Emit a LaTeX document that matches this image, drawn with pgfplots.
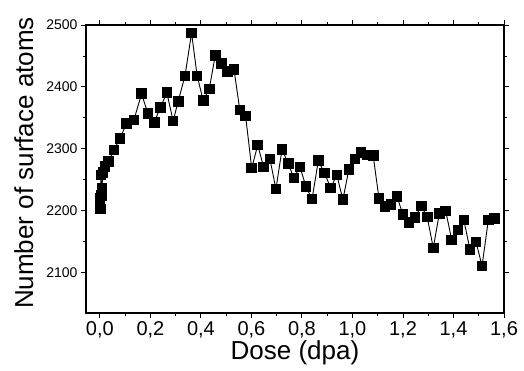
\documentclass[border=0pt]{standalone}
\usepackage{pgfplots}
\pgfplotsset{compat=1.18}
\usepackage{fontspec}
\setmainfont{Liberation Sans}
\begin{document}
\begin{tikzpicture}
\begin{axis}[
  scale only axis, width=418pt, height=288pt,
  xmin=-0.055, xmax=1.6, ymin=2035, ymax=2500,
  xtick={0,0.2,...,1.61}, minor x tick num=1,
  ytick={2100,2200,2300,2400,2500}, minor y tick num=1,
  tick align=outside, tick pos=both,
  xticklabel pos=lower, yticklabel pos=left,
  major tick length=5pt, minor tick length=3pt,
  every tick/.style={black, line width=0.9pt},
  axis line style={line width=1.1pt},
  xticklabel style={font=\fontsize{20}{20}\selectfont, /pgf/number format/.cd, fixed, fixed zerofill, precision=1, use comma},
  yticklabel style={font=\fontsize{14}{14}\selectfont, /pgf/number format/.cd, fixed, 1000 sep={}},
  /pgf/number format/assume math mode=true,
  xlabel={Dose (dpa)}, ylabel={Number of surface atoms},
  label style={font=\fontsize{26}{26}\selectfont},
  xlabel style={yshift=4pt},
  ylabel style={yshift=6pt, xshift=6pt},
  clip=false,
]
\coordinate (bl) at (rel axis cs:0,0);
\coordinate (tr) at (rel axis cs:1,1);
\addplot[black, line width=0.9pt, mark=square*, mark size=4.8pt, mark options={solid}] coordinates {
(0.000,2220) (0.002,2203) (0.004,2258) (0.006,2225) (0.008,2236) (0.012,2262)
(0.020,2272) (0.035,2280) (0.055,2298) (0.080,2317) (0.105,2341) (0.135,2347)
(0.165,2389) (0.190,2357) (0.215,2343) (0.240,2367) (0.265,2391) (0.290,2345)
(0.310,2377) (0.337,2418) (0.363,2487) (0.385,2418) (0.409,2378) (0.433,2397)
(0.457,2451) (0.482,2438) (0.506,2425) (0.531,2428) (0.554,2363) (0.577,2353)
(0.601,2269) (0.625,2306) (0.648,2271) (0.673,2284) (0.697,2235) (0.721,2299)
(0.746,2276) (0.768,2253) (0.792,2271) (0.816,2239) (0.840,2219) (0.865,2281)
(0.889,2261) (0.914,2237) (0.938,2258) (0.962,2218) (0.986,2267) (1.010,2284)
(1.034,2294) (1.058,2290) (1.082,2289) (1.105,2220) (1.129,2207) (1.152,2210)
(1.176,2223) (1.200,2194) (1.224,2181) (1.248,2189) (1.272,2208) (1.296,2190)
(1.320,2140) (1.344,2196) (1.369,2200) (1.393,2153) (1.417,2169) (1.441,2185)
(1.465,2138) (1.489,2150) (1.513,2111) (1.538,2185) (1.562,2188)
};
\end{axis}
\pgfresetboundingbox
\path ([xshift=-86pt,yshift=-58pt]bl) rectangle ([xshift=20pt,yshift=25pt]tr);
\end{tikzpicture}
\end{document}
